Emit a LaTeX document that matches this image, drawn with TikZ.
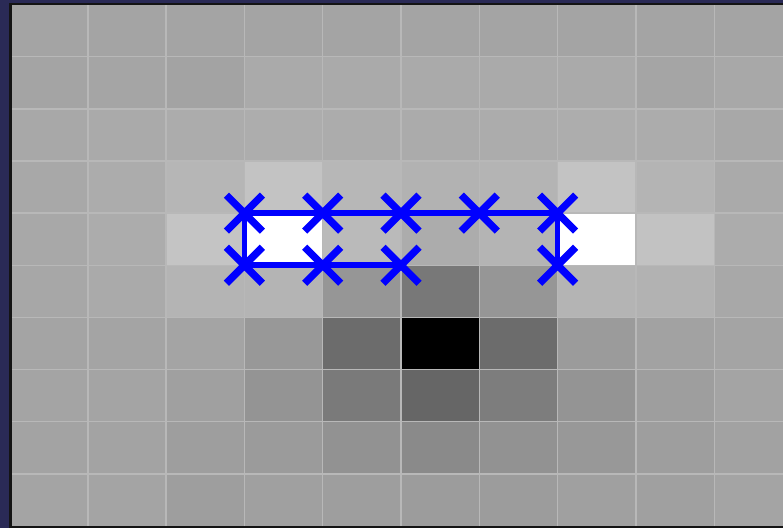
\documentclass[tikz,border=0pt]{standalone}
\usepackage{xcolor}
\usepackage{tikz}
\usetikzlibrary{
  shapes.misc,
  calc
}
\definecolor{framebg}{RGB}{42,42,86}
\definecolor{frameline}{RGB}{20,20,20}
\definecolor{gridline}{RGB}{184,184,184}
\definecolor{tracecolor}{RGB}{0,0,255}
% cell size and origin, in pixels
\def\cw{78.3}
\def\rh{52.15}
\def\ox{9.5}
\def\oy{4.5}
\tikzset{
  gridrule/.style={
    draw=gridline, line width=0.042cm
  },
  crossmark/.style={
    cross out, draw=tracecolor, line width=0.22cm,
    minimum size=1.08cm, inner sep=0pt, outer sep=0pt
  },
  traceline/.style={
    draw=tracecolor, line width=0.17cm, line join=miter
  }
}

\begin{document}
\begin{tikzpicture}[x=0.03cm, y=-0.03cm]

    % page and frame
    \useasboundingbox (0,0) rectangle (783,528);
    \clip (0,0) rectangle (783,528);
    \fill[framebg] (0,0) rectangle (783,528);

    % Cells: one gray level per cell, 10 per row
    \foreach \gv [count=\ii from 0] in {
      164,164,164,164,164,164,164,164,164,164,
      164,165,163,170,170,170,170,170,165,168,
      168,170,172,173,172,171,172,173,172,168,
      168,172,182,195,183,178,180,195,180,170,
      168,172,196,255,186,172,180,255,194,172,
      167,170,180,180,150,120,150,180,178,168,
      164,164,164,152,108,0,108,155,162,164,
      164,164,160,148,122,102,125,148,158,164,
      163,163,158,155,146,138,146,152,158,162,
      164,164,158,160,158,156,156,160,160,164}{
      \pgfmathtruncatemacro\cc{mod(\ii,10)}
      \pgfmathtruncatemacro\rr{div(\ii,10)}
      \pgfmathsetmacro\pct{\gv/2.55}
      \fill[white!\pct!black] ({\ox+\cc*\cw},{\oy+\rr*\rh}) rectangle ({\ox+(\cc+1)*\cw},{\oy+(\rr+1)*\rh});
    }

    % Grid lines
    \foreach \cc in {1,...,9} {
      \draw[gridrule] ({\ox+\cc*\cw},\oy) -- ({\ox+\cc*\cw},{\oy+10*\rh});
    }
    \foreach \rr in {1,...,9} {
      \draw[gridrule] (\ox,{\oy+\rr*\rh}) -- (800,{\oy+\rr*\rh});
    }

    % dark edge of the image
    \draw[frameline, line width=0.075cm] (10.5,528) -- (10.5,4.2) -- (790,4.2);
    \draw[frameline, line width=0.075cm] (10.5,527) -- (790,527);

    % Marks: top row
    \node[crossmark] (t1) at ({\ox+3*\cw},{\oy+4*\rh}) {};
    \node[crossmark] (t2) at ({\ox+4*\cw},{\oy+4*\rh}) {};
    \node[crossmark] (t3) at ({\ox+5*\cw},{\oy+4*\rh}) {};
    \node[crossmark] (t4) at ({\ox+6*\cw},{\oy+4*\rh}) {};
    \node[crossmark] (t5) at ({\ox+7*\cw},{\oy+4*\rh}) {};

    % Marks: bottom row
    \node[crossmark] (b1) at ({\ox+3*\cw},{\oy+5*\rh}) {};
    \node[crossmark] (b2) at ({\ox+4*\cw},{\oy+5*\rh}) {};
    \node[crossmark] (b3) at ({\ox+5*\cw},{\oy+5*\rh}) {};
    \node[crossmark] (b5) at ({\ox+7*\cw},{\oy+5*\rh}) {};

    % Trace through the marks
    \draw[traceline] (b3.center) -- (b2.center) -- (b1.center) -- (t1.center)
      -- (t2.center) -- (t3.center) -- (t4.center) -- (t5.center) -- (b5.center);

  \end{tikzpicture}
\end{document}
